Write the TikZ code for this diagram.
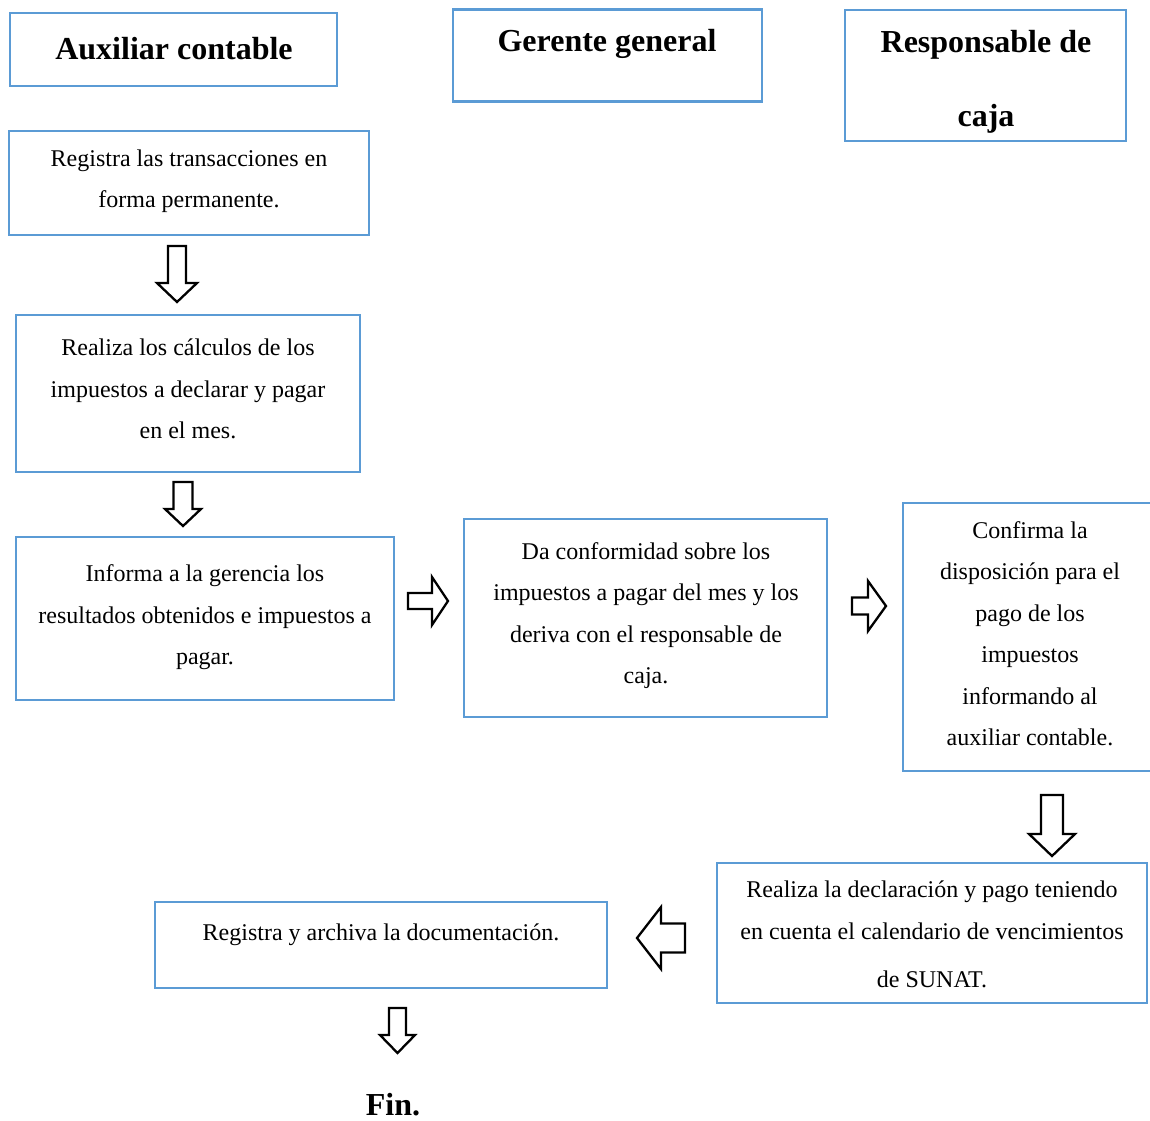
\documentclass[tikz,border=0pt]{standalone}
\usepackage{fontspec}
\setmainfont{Liberation Serif}
\begin{document}
\begin{tikzpicture}[x=1pt,y=-1pt,
  box/.style={draw=boxblue, line width=2.6pt, inner sep=0pt, outer sep=0pt},
  txt/.style={anchor=base, align=center, inner sep=0pt, font=\fontsize{24}{41.5}\selectfont},
  head/.style={anchor=base, align=center, inner sep=0pt, font=\fontsize{32}{40}\selectfont\bfseries},
  arrowline/.style={draw=black, fill=white, line width=2.3pt, line join=miter},
  % block arrow pointing down from its tail centre:
  % #1 total length, #2 head length, #3 shaft width, #4 head width
  pics/barrow/.style n args={4}{code={
    \path[arrowline] (-#3/2,0) -- (-#3/2,#1-#2) -- (-#4/2,#1-#2) -- (0,#1)
      -- (#4/2,#1-#2) -- (#3/2,#1-#2) -- (#3/2,0) -- cycle;
  }}
]
\definecolor{boxblue}{HTML}{5B9BD5}
\useasboundingbox (0,0) rectangle (1150,1120);
\clip (0,0) rectangle (1150,1120);

% column headers (text nodes are placed by the baseline of their last line)
\node[box, minimum width=327, minimum height=73] (h1) at (173.5,49.5) {};
\node[head] (h1t) at (174,59) {Auxiliar contable};
\node[box, minimum width=309, minimum height=92] (h2) at (607.5,55.5) {};
\node[head] (h2t) at (607,51) {Gerente general};
\node[box, minimum width=281, minimum height=131] (h3) at (985.5,75.5) {};
\node[head] (h3t) at (986,126) {Responsable de\\[34pt]caja};

% process steps
\node[box, minimum width=360, minimum height=104] (a) at (189,183) {};
\node[txt] (at) at (189,207.5) {Registra las transacciones en\\forma permanente.};

\node[box, minimum width=344, minimum height=157] (b) at (188,393.5) {};
\node[txt] (bt) at (188,438.5) {Realiza los cálculos de los\\impuestos a declarar y pagar\\en el mes.};

\node[box, minimum width=378, minimum height=163] (c) at (205,618.5) {};
\node[txt] (ct) at (205,664.5) {Informa a la gerencia los\\resultados obtenidos e impuestos a\\pagar.};

\node[box, minimum width=363, minimum height=198] (d) at (645.5,618) {};
\node[txt] (dt) at (646,683.5) {Da conformidad sobre los\\impuestos a pagar del mes y los\\deriva con el responsable de\\caja.};

\node[box, minimum width=257, minimum height=268] (e) at (1031.5,637) {};
\node[txt] (et) at (1030,745.5) {Confirma la\\disposición para el\\pago de los\\impuestos\\informando al\\auxiliar contable.};

\node[box, minimum width=430, minimum height=140] (f) at (932,933) {};
\node[txt] (ft) at (932,987.5) {Realiza la declaración y pago teniendo\\en cuenta el calendario de vencimientos\\[7pt]de SUNAT.};

\node[box, minimum width=452, minimum height=86] (g) at (381,945) {};
\node[txt] (gt) at (381,940) {Registra y archiva la documentación.};

\node[head] (fin) at (393,1115) {Fin.};

% block arrows between the steps
\coordinate (ab) at (177,246);
\coordinate (bc) at (183,482);
\coordinate (cd) at (408,601);
\coordinate (de) at (852,606);
\coordinate (ef) at (1052,795);
\coordinate (fg) at (685,938);
\coordinate (gfin) at (397.5,1008);

\pic at (ab) {barrow={56}{19}{18}{40}};
\pic at (bc) {barrow={44}{17}{19}{36}};
\pic[rotate=90] at (cd) {barrow={40}{16}{16}{48}};
\pic[rotate=90] at (de) {barrow={34}{18}{17}{50}};
\pic at (ef) {barrow={61}{22}{22}{46}};
\pic[rotate=-90] at (fg) {barrow={48}{24}{29}{62}};
\pic at (gfin) {barrow={45}{18}{17}{35}};
\end{tikzpicture}
\end{document}
